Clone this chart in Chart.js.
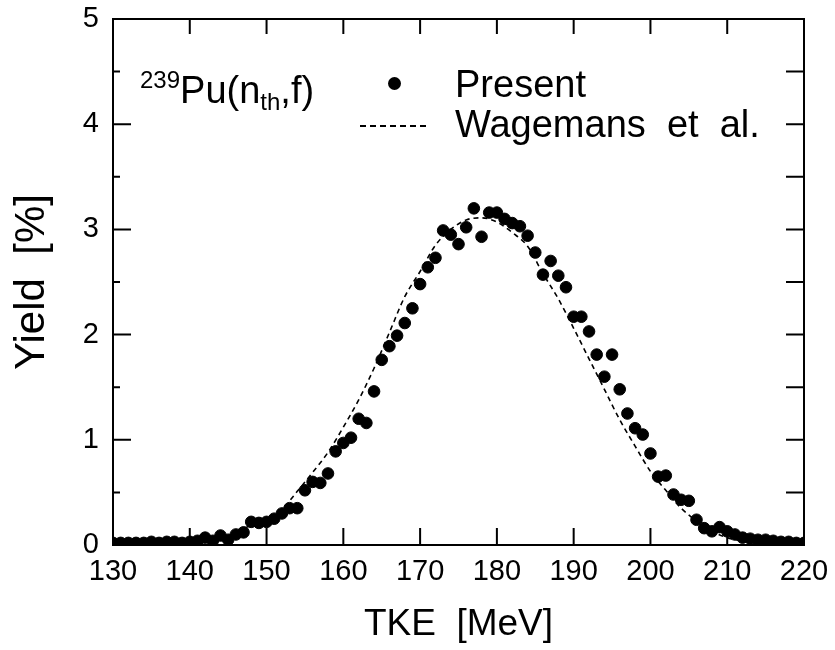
<!DOCTYPE html>
<html>
<head>
<meta charset="utf-8">
<script src="https://cdn.jsdelivr.net/npm/chart.js@4.4.1/dist/chart.umd.min.js"></script>
<style>
  body { margin: 0; background: #fff; }
  #wrap { position: relative; width: 835px; height: 650px; font-family: "Liberation Sans", Arial, sans-serif; color: #000; }
  #wrap canvas { position: absolute; left: 0; top: 0; }
  .lbl { position: absolute; font-size: 38px; line-height: 1; white-space: pre; }
  .lbl sup { font-size: 24px; vertical-align: 15px; line-height: 0; }
  .lbl sub { font-size: 24px; vertical-align: -7px; line-height: 0; }
  #dot { position: absolute; left: 388px; top: 77px; width: 13px; height: 13px; border-radius: 50%; background: #000; }
  #dash { position: absolute; left: 360px; top: 125px; width: 66px; height: 0; border-top: 2px dashed #000; }
</style>
</head>
<body>
<div id="wrap">
  <canvas id="chart" width="835" height="650"></canvas>
  <div class="lbl" style="left:140px; top:71px;"><sup>239</sup>Pu(n<sub>th</sub>,f)</div>
  <div id="dot"></div>
  <div class="lbl" style="left:455px; top:65px;">Present</div>
  <div id="dash"></div>
  <div class="lbl" style="left:455px; top:105px;">Wagemans  et  al.</div>
</div>
<script>
// ===== 239Pu(nth,f) TKE 分布 =====
// 本次测量 (每 1 MeV 一个点)
var tke = [130, 131, 132, 133, 134, 135, 136, 137, 138, 139,
           140, 141, 142, 143, 144, 145, 146, 147, 148, 149,
           150, 151, 152, 153, 154, 155, 156, 157, 158, 159,
           160, 161, 162, 163, 164, 165, 166, 167, 168, 169,
           170, 171, 172, 173, 174, 175, 176, 177, 178, 179,
           180, 181, 182, 183, 184, 185, 186, 187, 188, 189,
           190, 191, 192, 193, 194, 195, 196, 197, 198, 199,
           200, 201, 202, 203, 204, 205, 206, 207, 208, 209,
           210, 211, 212, 213, 214, 215, 216, 217, 218, 219, 220];
var presentYield = [0.02, 0.02, 0.02, 0.02, 0.02, 0.03, 0.02, 0.03, 0.03, 0.02,
                    0.03, 0.04, 0.07, 0.04, 0.09, 0.05, 0.10, 0.12, 0.22, 0.21,
                    0.22, 0.25, 0.30, 0.35, 0.35, 0.52, 0.60, 0.59, 0.68, 0.89,
                    0.97, 1.02, 1.20, 1.16, 1.46, 1.76, 1.89, 1.99, 2.11, 2.25,
                    2.48, 2.64, 2.73, 2.99, 2.95, 2.86, 3.02, 3.20, 2.93, 3.16,
                    3.16, 3.10, 3.06, 3.03, 2.94, 2.78, 2.57, 2.70, 2.56, 2.45,
                    2.17, 2.17, 2.03, 1.81, 1.60, 1.81, 1.48, 1.25, 1.11, 1.05,
                    0.87, 0.65, 0.66, 0.48, 0.43, 0.42, 0.24, 0.16, 0.13, 0.17,
                    0.13, 0.10, 0.07, 0.06, 0.05, 0.05, 0.04, 0.03, 0.03, 0.02, 0.02];

// Wagemans et al. (虚线, 每 2 MeV 读一次)
var wagemansTke = [130, 132, 134, 136, 138, 140, 142, 144, 146, 148,
                   150, 152, 154, 156, 158, 160, 162, 164, 166, 168,
                   170, 172, 174, 176, 178, 180, 182, 184, 186, 188,
                   190, 192, 194, 196, 198, 200, 202, 204, 206, 208,
                   210, 212, 214, 216, 218, 220];
var wagemansYield = [0.00, 0.00, 0.00, 0.00, 0.01, 0.01, 0.03, 0.06, 0.12, 0.19,
                     0.26, 0.34, 0.51, 0.69, 0.88, 1.12, 1.38, 1.68, 2.02, 2.36,
                     2.60, 2.85, 3.00, 3.09, 3.11, 3.07, 2.97, 2.84, 2.58, 2.34,
                     2.06, 1.77, 1.48, 1.19, 0.94, 0.70, 0.52, 0.35, 0.23, 0.13,
                     0.07, 0.04, 0.02, 0.01, 0.00, 0.00];

// 刻度
var xTicks = [130, 140, 150, 160, 170, 180, 190, 200, 210, 220];
var yMajor = [0, 1, 2, 3, 4, 5];
var yMinor = [0.5, 1.5, 2.5, 3.5, 4.5];

var FONT = '"Liberation Sans", Arial, sans-serif';

var framePlugin = {
  id: 'frame',
  afterDraw: function(chart) {
    var ctx = chart.ctx, a = chart.chartArea;
    var xs = chart.scales.x, ys = chart.scales.y;
    ctx.save();
    ctx.strokeStyle = '#000';
    ctx.lineWidth = 2;
    ctx.strokeRect(a.left, a.top, a.right - a.left, a.bottom - a.top);
    ctx.beginPath();
    xTicks.forEach(function(v) {
      var px = xs.getPixelForValue(v);
      ctx.moveTo(px, a.bottom); ctx.lineTo(px, a.bottom - 17);
      ctx.moveTo(px, a.top); ctx.lineTo(px, a.top + 15);
    });
    yMajor.forEach(function(v) {
      var py = ys.getPixelForValue(v);
      ctx.moveTo(a.left, py); ctx.lineTo(a.left + 18, py);
      ctx.moveTo(a.right, py); ctx.lineTo(a.right - 18, py);
    });
    yMinor.forEach(function(v) {
      var py = ys.getPixelForValue(v);
      ctx.moveTo(a.left, py); ctx.lineTo(a.left + 7, py);
      ctx.moveTo(a.right, py); ctx.lineTo(a.right - 18, py);
    });
    ctx.stroke();
    ctx.restore();
  }
};

new Chart(document.getElementById('chart'), {
  type: 'scatter',
  data: {
    datasets: [
      {
        label: 'Present',
        data: tke.map(function(x, i) { return { x: x, y: presentYield[i] }; }),
        backgroundColor: '#000',
        borderColor: '#000',
        pointRadius: 5.8,
        pointHoverRadius: 5.8,
        order: 1
      },
      {
        label: 'Wagemans et al.',
        data: wagemansTke.map(function(x, i) { return { x: x, y: wagemansYield[i] }; }),
        showLine: true,
        borderColor: '#000',
        borderWidth: 1.6,
        borderDash: [5, 4],
        pointRadius: 0,
        cubicInterpolationMode: 'monotone',
        order: 2
      }
    ]
  },
  options: {
    responsive: false,
    animation: false,
    events: [],
    layout: { padding: { left: 0, right: 31, top: 19, bottom: 0 } },
    plugins: { legend: { display: false }, tooltip: { enabled: false } },
    scales: {
      x: {
        type: 'linear', min: 130, max: 220,
        grid: { display: false, drawTicks: false },
        border: { display: false },
        ticks: { stepSize: 10, padding: 10, color: '#000', font: { family: FONT, size: 29 } },
        title: { display: true, text: 'TKE  [MeV]', color: '#000', font: { family: FONT, size: 37 }, padding: { top: 0, bottom: 3 } },
        afterFit: function(s) { s.height = 105; s.paddingLeft = 0; s.paddingRight = 0; }
      },
      y: {
        min: 0, max: 5,
        grid: { display: false, drawTicks: false },
        border: { display: false },
        ticks: { stepSize: 1, padding: 14, color: '#000', font: { family: FONT, size: 29 } },
        title: { display: true, text: 'Yield  [%]', color: '#000', font: { family: FONT, size: 42 }, padding: { top: 7, bottom: 0 } },
        afterFit: function(s) { s.width = 113; s.paddingTop = 0; s.paddingBottom = 0; }
      }
    }
  },
  plugins: [framePlugin]
});
</script>
</body>
</html>
